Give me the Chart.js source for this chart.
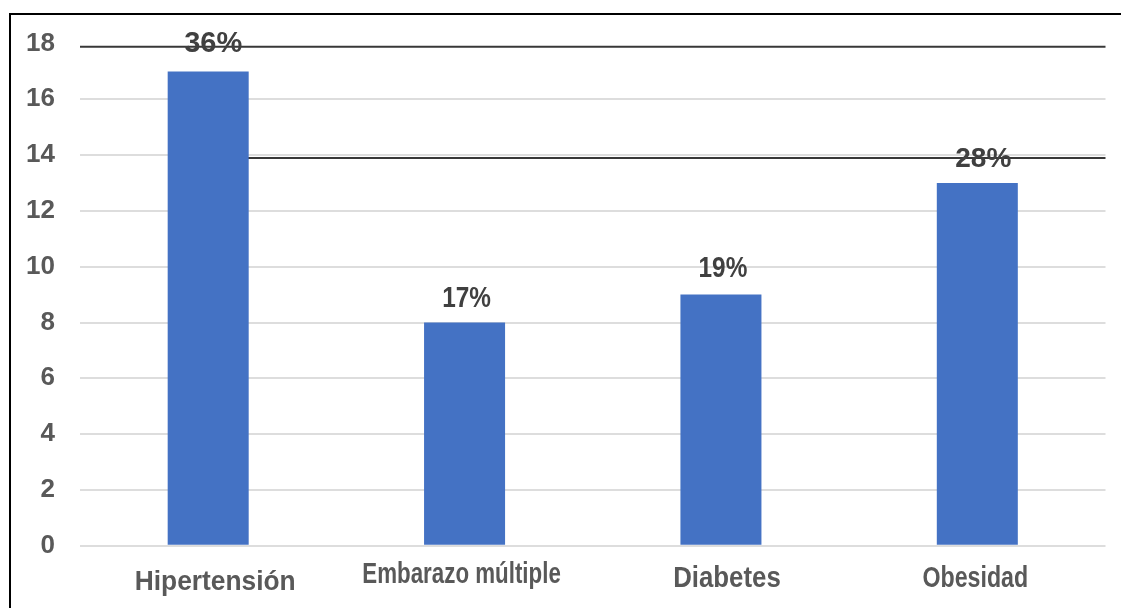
<!DOCTYPE html>
<html>
<head>
<meta charset="utf-8">
<script src="https://cdn.jsdelivr.net/npm/chart.js@4/dist/chart.umd.min.js"></script>
<style>
  html, body { margin: 0; padding: 0; background: #ffffff; }
  #wrap { width: 1121px; height: 608px; }
</style>
</head>
<body>
<div id="wrap"><canvas id="c" width="1121" height="608"></canvas></div>
<script>
// Categories, counts and the percentage shown above each bar
const categories = ['Hipertensión', 'Embarazo múltiple', 'Diabetes', 'Obesidad'];
const counts = [17, 8, 9, 13];
const percentLabels = ['36%', '17%', '19%', '28%'];
// Horizontal marker lines (axis values)
const markerLines = [17.88, 13.9];
// Y axis range
const yMin = 0;
const yMax = 18;
const yStep = 2;

// Text styles: font size, horizontal squeeze, x nudge, distance below/above reference
const categoryStyle = [
  { size: 28, sx: 0.94, dx: 7, dy: 44 },
  { size: 29, sx: 0.77, dx: -3, dy: 37 },
  { size: 29, sx: 0.89, dx: 6, dy: 41 },
  { size: 29, sx: 0.80, dx: -2, dy: 41 }
];
const percentStyle = [
  { size: 29, sx: 1.0, dx: 5, dy: 19 },
  { size: 29, sx: 0.84, dx: 2, dy: 16 },
  { size: 29, sx: 0.84, dx: 2, dy: 18 },
  { size: 28, sx: 1.0, dx: 6, dy: 16 }
];
const FONT = '"Liberation Sans", Arial, sans-serif';

function squeezedText(ctx, text, x, y, size, sx) {
  ctx.save();
  ctx.translate(x, y);
  ctx.scale(sx, 1);
  ctx.font = 'bold ' + size + 'px ' + FONT;
  ctx.textAlign = 'center';
  ctx.textBaseline = 'alphabetic';
  ctx.fillText(text, 0, 0);
  ctx.restore();
}

const frameAndLines = {
  id: 'frameAndLines',
  beforeDatasetsDraw(chart) {
    const ctx = chart.ctx;
    const area = chart.chartArea;
    const y = chart.scales.y;
    const x = chart.scales.x;
    ctx.save();
    ctx.strokeStyle = '#383838';
    ctx.lineWidth = 2;
    markerLines.forEach((v, i) => {
      const py = y.getPixelForValue(v);
      // the second line starts inside the first bar, which hides its start
      const startX = i === 0 ? area.left : x.getPixelForValue(0);
      ctx.beginPath();
      ctx.moveTo(startX, py);
      ctx.lineTo(area.right, py);
      ctx.stroke();
    });
    ctx.restore();
  },
  afterDatasetsDraw(chart) {
    const ctx = chart.ctx;
    const meta = chart.getDatasetMeta(0);
    const x = chart.scales.x;
    const base = chart.chartArea.bottom;
    ctx.save();
    // value labels above the bars
    ctx.fillStyle = '#404040';
    meta.data.forEach((bar, i) => {
      const s = percentStyle[i];
      squeezedText(ctx, percentLabels[i], bar.x + s.dx, bar.y - s.dy, s.size, s.sx);
    });
    // category names under the axis
    ctx.fillStyle = '#595959';
    categories.forEach((name, i) => {
      const s = categoryStyle[i];
      squeezedText(ctx, name, x.getPixelForValue(i) + s.dx, base + s.dy, s.size, s.sx);
    });
    ctx.restore();
  },
  afterDraw(chart) {
    const ctx = chart.ctx;
    ctx.save();
    ctx.strokeStyle = '#000000';
    ctx.lineWidth = 2;
    ctx.beginPath();
    ctx.moveTo(10, chart.height + 2);
    ctx.lineTo(10, 14);
    ctx.lineTo(chart.width + 2, 14);
    ctx.stroke();
    ctx.restore();
  }
};

new Chart(document.getElementById('c'), {
  type: 'bar',
  data: {
    labels: categories,
    datasets: [{
      data: counts,
      backgroundColor: '#4472C4',
      borderWidth: 0,
      categoryPercentage: 1,
      barPercentage: 0.316
    }]
  },
  options: {
    responsive: false,
    animation: false,
    events: [],
    layout: { padding: { left: 0, right: 15.5, top: 43.5, bottom: 0 } },
    plugins: {
      legend: { display: false },
      tooltip: { enabled: false }
    },
    scales: {
      x: {
        grid: { display: false, drawTicks: false },
        border: { display: false },
        ticks: { display: false },
        afterFit(scale) { scale.height = 62.3; }
      },
      y: {
        min: yMin,
        max: yMax,
        grid: {
          drawTicks: false,
          lineWidth: 2,
          color: (ctx) => (ctx.tick && ctx.tick.value === yMax) ? 'rgba(0,0,0,0)' : '#dddddd'
        },
        border: { display: false },
        ticks: {
          stepSize: yStep,
          color: '#595959',
          padding: 25,
          font: { family: FONT, weight: 'bold', size: 26 }
        },
        afterFit(scale) { scale.width = 80; }
      }
    }
  },
  plugins: [frameAndLines]
});
</script>
</body>
</html>
